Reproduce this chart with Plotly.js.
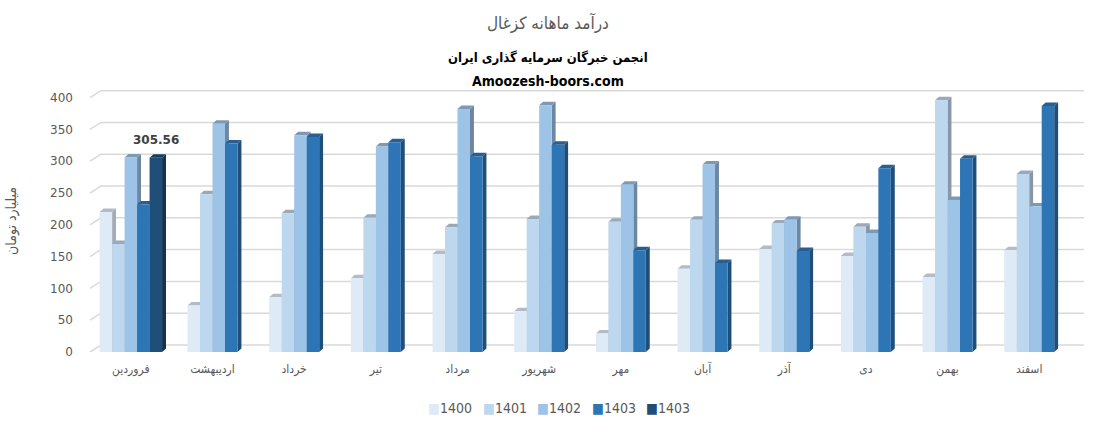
<!DOCTYPE html>
<html>
<head>
<meta charset="utf-8">
<script src="https://cdn.plot.ly/plotly-3.0.1.min.js"></script>
<style>html,body{margin:0;padding:0;background:#fff;}#chart{width:1097px;height:428px;}</style>
</head>
<body>
<div id="chart"></div>
<script>
const months = ['فروردین','اردیبهشت','خرداد','تیر','مرداد','شهریور','مهر','آبان','آذر','دی','بهمن','اسفند'];
const seriesNames = ['1400','1401','1402','1403','1403'];
const s1400 = [220, 73, 86, 116, 154, 64, 29, 131, 162, 151, 118, 160];
const s1401 = [170, 248, 218, 211, 196, 209, 205, 208, 202, 197, 396, 280];
const s1402 = [306, 359, 341, 323, 382, 388, 263, 295, 208, 187, 239, 229];
const s1403 = [232, 328, 338, 330, 308, 326, 160, 140, 159, 289, 304, 387];
const s1403b = [305.56, null, null, null, null, null, null, null, null, null, null, null];
const yTicks = [0, 50, 100, 150, 200, 250, 300, 350, 400];

const series = [s1400, s1401, s1402, s1403, s1403b];
const frontColors = ['#deebf7', '#bdd7ee', '#9dc3e6', '#2e75b6', '#1f4e79'];
const sideColors  = ['#a3acb6', '#8797a8', '#6c87a3', '#1f4e79', '#15314f'];
const capColors   = ['#b3bcc6', '#9aa9b9', '#7f98b3', '#2a5e8e', '#1b3d60'];

const W = 0.153;          // bar width (category units)
const DX = 0.048, DY = 5.5;   // bar depth
const GX = 0.135, GY = 11;    // back wall depth
const XMAX = 11.671, YMAX = 412;

const xs = months.map((m, i) => i);
const traces = [];
const shapes = [];
const annotations = [];

// gridlines on the back wall
yTicks.forEach(v => {
  shapes.push({type:'path', xref:'x', yref:'y', layer:'below',
    path:`M -0.5,${v} L ${-0.5+GX},${v+GY} L ${XMAX},${v+GY}`,
    line:{color:'#d9d9d9', width:1.5}});
});

const counts = xs.map(i => series.filter(s => s[i] !== null && s[i] !== undefined).length);
const slot = xs.map(() => 0);
const offsets = series.map(() => []);
series.forEach((s, k) => {
  xs.forEach(i => {
    if (s[i] === null || s[i] === undefined) { offsets[k].push(0); return; }
    offsets[k].push(-counts[i]*W/2 + slot[i]*W);
    slot[i]++;
  });
});

series.forEach((s, k) => {
  traces.push({
    type:'bar', x: xs, y: s, name: seriesNames[k],
    width: W, offset: offsets[k],
    marker:{color: frontColors[k], line:{width:0}},
    showlegend:false, hoverinfo:'y'
  });
  xs.forEach(i => {
    const v = s[i];
    if (v === null || v === undefined) return;
    const x0 = i + offsets[k][i], x1 = x0 + W;
    shapes.push({type:'path', xref:'x', yref:'y', layer:'between',
      path:`M ${x1},0 L ${x1},${v} L ${x1+DX},${v+DY} L ${x1+DX},${DY} Z`,
      fillcolor: sideColors[k], line:{width:0}});
    shapes.push({type:'path', xref:'x', yref:'y', layer:'between',
      path:`M ${x0},${v} L ${x1},${v} L ${x1+DX},${v+DY} L ${x0+DX},${v+DY} Z`,
      fillcolor: capColors[k], line:{width:0}});
    if (k === 4) {
      annotations.push({text:'<b>' + v.toFixed(2) + '</b>', xref:'x', yref:'y', x: x0 + W/2, y: v,
        yshift: 9, xanchor:'center', yanchor:'bottom', showarrow:false,
        font:{family:'DejaVu Sans, Arial', size:12, color:'#404040'}});
    }
  });
});

annotations.push(
  {text:'درآمد ماهانه کزغال', xref:'paper', yref:'paper', x:(548-90)/994, y:1+ (90-22)/262, xanchor:'center', yanchor:'middle', showarrow:false,
   font:{family:'DejaVu Sans Condensed, DejaVu Sans', size:17, color:'#595959'}},
  {text:'<b>انجمن خبرگان سرمایه گذاری ایران</b>', xref:'paper', yref:'paper', x:(548-90)/994, y:1+(90-57)/262, xanchor:'center', yanchor:'middle', showarrow:false,
   font:{family:'DejaVu Sans Condensed, DejaVu Sans', size:13, color:'#000000'}},
  {text:'<b>Amoozesh-boors.com</b>', xref:'paper', yref:'paper', x:(548-90)/994, y:1+(90-81)/262, xanchor:'center', yanchor:'middle', showarrow:false,
   font:{family:'DejaVu Sans Condensed, DejaVu Sans', size:14, color:'#000000'}}
);
// legend
seriesNames.forEach((n, k) => {
  annotations.push({text:`<span style="color:${frontColors[k]}">■</span>${n}`, xref:'paper', yref:'paper',
    x:(426 + 54.5*k - 90)/994, y:(351.7-408)/262, xanchor:'left', yanchor:'middle', showarrow:false,
    font:{family:'Liberation Sans Narrow, DejaVu Sans Condensed, Arial', size:14, color:'#595959'}});
});

const layout = {
  width:1097, height:428,
  margin:{l:90, r:13, t:90, b:76, pad:0},
  paper_bgcolor:'#ffffff', plot_bgcolor:'rgba(0,0,0,0)',
  barmode:'overlay',
  showlegend:false,
  xaxis:{range:[-0.5, XMAX], tickmode:'array', tickvals:xs, ticktext:months, showgrid:false, zeroline:false,
    showline:false, ticks:'', ticklabelstandoff:8,
    tickfont:{family:'DejaVu Sans Condensed, DejaVu Sans', size:12, color:'#595959'}},
  yaxis:{range:[0, YMAX], tickmode:'array', tickvals:yTicks, showgrid:false, zeroline:false, showline:false, ticks:'',
    ticklabelstandoff:16,
    tickfont:{family:'DejaVu Sans, Arial', size:12, color:'#595959'},
    title:{text:'میلیارد تومان', standoff:30, font:{family:'DejaVu Sans Condensed, DejaVu Sans', size:14, color:'#595959'}}},
  shapes: shapes,
  annotations: annotations
};

Plotly.newPlot('chart', traces, layout, {displayModeBar:false, staticPlot:true});
</script>
</body>
</html>
